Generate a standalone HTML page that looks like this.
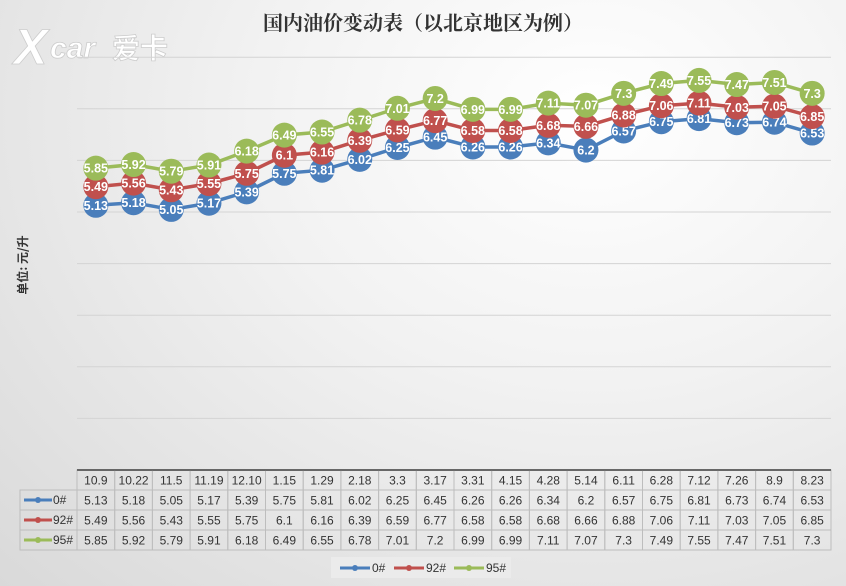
<!DOCTYPE html>
<html><head><meta charset="utf-8"><style>
body{margin:0;width:846px;height:586px;overflow:hidden;font-family:"Liberation Sans","Noto Sans CJK SC",sans-serif}
#bg{position:absolute;left:0;top:0;width:846px;height:586px;background:radial-gradient(ellipse at 70% 20%,#ffffff 0%,#f2f2f2 40%,#d9d9d9 100%)}
</style></head><body>
<div id="bg"></div>
<svg id="c" width="846" height="586" style="position:absolute;left:0;top:0">
<g>
<text x="14" y="64" font-family="Liberation Sans" font-weight="bold" font-style="italic" font-size="50" fill="#fff" stroke="#ccc" stroke-width="0.8">X</text>
<text x="50" y="58" font-family="Liberation Sans" font-weight="bold" font-style="italic" font-size="30" fill="#fff" stroke="#ccc" stroke-width="0.8">car</text>
<text x="112" y="58" font-family="Noto Sans CJK SC" font-weight="bold" font-size="28" fill="#fff" stroke="#ccc" stroke-width="0.8">爱卡</text>
</g>
<text x="423" y="30" text-anchor="middle" font-family="Noto Serif CJK SC,serif" font-weight="bold" font-size="20" fill="#333">国内油价变动表（以北京地区为例）</text>
<text transform="translate(27,265) rotate(-90)" text-anchor="middle" font-family="Noto Sans CJK SC" font-weight="bold" font-size="12" fill="#333">单位: 元/升</text>
<g id="grid"></g><g id="series"></g><g id="table"></g>
<g>
<rect x="331" y="557" width="180" height="21" fill="#ebebeb"/>
<line x1="340" y1="568" x2="370" y2="568" stroke="#4a7ebb" stroke-width="3"/><circle cx="355" cy="568" r="3" fill="#4a7ebb"/><text x="372" y="572" font-size="12" fill="#333">0#</text>
<line x1="394" y1="568" x2="424" y2="568" stroke="#c0504d" stroke-width="3"/><circle cx="409" cy="568" r="3" fill="#c0504d"/><text x="426" y="572" font-size="12" fill="#333">92#</text>
<line x1="454" y1="568" x2="484" y2="568" stroke="#9bbb59" stroke-width="3"/><circle cx="469" cy="568" r="3" fill="#9bbb59"/><text x="486" y="572" font-size="12" fill="#333">95#</text>
</g>
</svg>
<script>
const categories=["10.9","10.22","11.5","11.19","12.10","1.15","1.29","2.18","3.3","3.17","3.31","4.15","4.28","5.14","6.11","6.28","7.12","7.26","8.9","8.23"];
const s0=[5.13,5.18,5.05,5.17,5.39,5.75,5.81,6.02,6.25,6.45,6.26,6.26,6.34,6.2,6.57,6.75,6.81,6.73,6.74,6.53];
const s92=[5.49,5.56,5.43,5.55,5.75,6.1,6.16,6.39,6.59,6.77,6.58,6.58,6.68,6.66,6.88,7.06,7.11,7.03,7.05,6.85];
const s95=[5.85,5.92,5.79,5.91,6.18,6.49,6.55,6.78,7.01,7.2,6.99,6.99,7.11,7.07,7.3,7.49,7.55,7.47,7.51,7.3];
const yTicks=[0,1,2,3,4,5,6,7,8];
const NS="http://www.w3.org/2000/svg";
const X0=77,CW=37.7,Y0=470,UNIT=51.6;
const xs=i=>X0+CW/2+i*CW, ys=v=>Y0-v*UNIT;
function mk(t,a,p){const e=document.createElementNS(NS,t);for(const k in a)e.setAttribute(k,a[k]);p.appendChild(e);return e;}
const grid=document.getElementById('grid');
yTicks.forEach(v=>{const l=mk('line',{x1:X0,x2:831,y1:ys(v),y2:ys(v),stroke:v===0?'#555':'#d4d4d4','stroke-width':v===0?1.5:1},grid);

});
const series=[{n:'0#',d:s0,c:'#4a7ebb'},{n:'92#',d:s92,c:'#c0504d'},{n:'95#',d:s95,c:'#9bbb59'}];
const sg=document.getElementById('series');
series.forEach(s=>{
 const g=mk('g',{},sg);
 
 
 const pl=mk('polyline',{points:s.d.map((v,i)=>xs(i)+','+ys(v)).join(' '),fill:'none',stroke:s.c,'stroke-width':3.5},g);
 
 
 s.d.forEach((v,i)=>{
  const c=mk('circle',{cx:xs(i),cy:ys(v),r:12.5,fill:s.c},g);
  
  
  const t=mk('text',{x:xs(i),y:ys(v)+4.5,'text-anchor':'middle','font-size':12.5,'font-weight':'bold',fill:'#fff'},g);
  
  
  t.textContent=v;
 });
});
const tg=document.getElementById('table');


const rows=[{y:470,h:20},{y:490,h:20},{y:510,h:20},{y:530,h:20}];
const rowData=[categories,s0,s92,s95];
rows.forEach((r,ri)=>{
 if(ri>0){const rc=mk('rect',{x:20,y:r.y,width:57,height:r.h,fill:'none',stroke:'#bdbdbd'},tg);
  const s=series[ri-1];
  mk('line',{x1:24,x2:52,y1:r.y+10,y2:r.y+10,stroke:s.c,'stroke-width':3},tg);
  mk('circle',{cx:38,cy:r.y+10,r:3,fill:s.c},tg);
  const lt=mk('text',{x:53,y:r.y+14,'font-size':12,fill:'#333'},tg);
  
  
  lt.textContent=s.n;}
 rowData[ri].forEach((v,i)=>{
  mk('rect',{x:X0+i*CW,y:r.y,width:CW,height:r.h,fill:'none',stroke:'#bdbdbd'},tg);
  const t=mk('text',{x:xs(i),y:r.y+14.5,'text-anchor':'middle','font-size':12,fill:'#333'},tg);
  
  
  t.textContent=v;
 });
});
mk('line',{x1:X0,x2:831,y1:470,y2:470,stroke:'#555','stroke-width':1.5},tg);
</script>
</body></html>
